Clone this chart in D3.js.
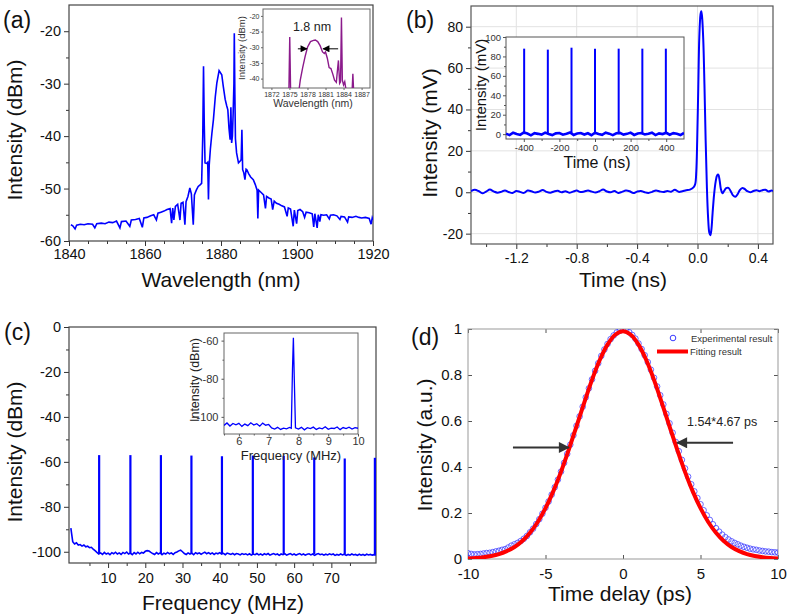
<!DOCTYPE html>
<html><head><meta charset="utf-8">
<script src="https://cdn.jsdelivr.net/npm/d3@7"></script>
<style>body{margin:0;background:#fff}</style>
</head><body>
<script>
// ================= DATA =================
// (a) main optical spectrum
const specA_wl = [1840.5,1841.0,1841.6,1842.0,1843.0,1844.0,1845.0,1846.2,1846.8,1847.3,1848.5,1849.5,1850.5,1851.5,1852.5,1853.4,1853.8,1855.0,1856.0,1856.4,1857.5,1858.5,1859.3,1859.7,1860.5,1861.5,1862.3,1863.0,1863.4,1864.2,1865.0,1865.8,1866.6,1867.0,1867.3,1867.6,1868.0,1868.6,1869.2,1869.5,1870.0,1870.5,1870.8,1871.3,1871.8,1872.2,1872.7,1873.0,1873.5,1874.0,1874.5,1874.9,1875.2,1875.4,1875.6,1875.8,1876.2,1876.5,1876.7,1876.9,1877.2,1877.6,1878.0,1878.5,1878.9,1879.5,1880.2,1880.6,1881.1,1881.5,1881.8,1882.1,1882.4,1882.6,1882.8,1883.0,1883.2,1883.4,1883.5,1883.65,1883.8,1884.1,1884.6,1885.0,1885.3,1885.5,1885.7,1886.0,1886.3,1886.6,1886.8,1887.3,1887.8,1888.5,1889.0,1889.5,1889.7,1889.9,1890.5,1891.2,1891.7,1892.0,1892.6,1893.2,1893.6,1894.0,1894.6,1895.3,1896.0,1896.7,1897.4,1897.7,1898.3,1899.0,1899.3,1899.9,1900.2,1900.8,1901.5,1902.0,1902.4,1903.2,1904.0,1904.4,1904.7,1905.3,1905.6,1906.0,1906.3,1907.0,1907.8,1908.5,1908.8,1909.6,1910.5,1911.3,1911.6,1912.5,1913.3,1913.6,1914.5,1915.5,1916.3,1917.0,1918.0,1919.0,1919.5,1919.8,1920.0];
const specA_db = [-56.9,-57.1,-57.7,-57.0,-56.8,-56.9,-56.7,-56.8,-57.5,-56.7,-56.6,-56.7,-56.4,-56.5,-56.2,-57.5,-56.3,-56.2,-57.2,-56.0,-55.9,-55.7,-57.4,-55.6,-55.5,-55.2,-55.0,-56.0,-54.7,-54.5,-54.3,-54.0,-53.8,-56.6,-53.7,-56.0,-53.4,-53.0,-56.0,-52.8,-52.6,-56.9,-52.5,-51.5,-49.9,-51.0,-56.9,-51.2,-50.3,-49.6,-49.3,-49.0,-40.0,-26.7,-38.0,-45.1,-45.2,-45.0,-52.1,-45.5,-42.5,-39.5,-36.9,-32.5,-29.9,-27.5,-28.3,-30.5,-33.0,-34.2,-35.0,-38.5,-40.7,-34.5,-41.3,-40.0,-35.6,-30.0,-20.4,-32.0,-40.5,-43.2,-45.1,-44.8,-44.5,-38.8,-46.4,-47.0,-48.3,-46.3,-46.4,-47.2,-47.8,-48.3,-49.2,-50.3,-55.7,-50.3,-50.7,-51.2,-53.8,-51.5,-51.8,-52.0,-54.0,-52.4,-52.8,-53.0,-53.3,-53.5,-55.3,-53.7,-53.9,-57.2,-54.1,-56.7,-54.2,-54.0,-54.4,-55.5,-54.5,-54.6,-54.8,-57.3,-54.8,-57.5,-55.0,-56.3,-55.0,-55.1,-55.0,-55.8,-55.1,-55.0,-55.2,-55.9,-55.3,-55.4,-56.4,-55.4,-55.5,-55.3,-55.5,-55.6,-55.5,-55.7,-56.8,-55.6,-56.0];
// (a) inset spectrum
const insA_wl = [1874.9,1875.05,1875.2,1876.5,1876.8,1877.2,1877.6,1878.0,1878.5,1879.0,1879.3,1879.7,1880.1,1880.5,1880.8,1881.0,1881.3,1881.6,1881.9,1882.2,1882.5,1882.8,1883.0,1883.15,1883.35,1883.5,1883.65,1883.8,1884.0,1884.2,1884.4,1885.4,1885.55,1885.7];
const insA_db = [-45,-26.7,-45,-45,-40.5,-36.5,-33,-30,-28.2,-27.8,-27.7,-28.2,-29.5,-31.5,-32,-31.5,-33.5,-36.5,-36.8,-38.5,-40.5,-41.2,-37,-34.2,-41.5,-41,-20.5,-40.5,-42,-41,-43.5,-45,-38.5,-45];
const insA_label = "1.8 nm";

// (b) main pulse trace
const baseB_start = -1.5, baseB_step = 0.025;
const baseB_mV = [0.5,1.2,0.6,-0.5,0.3,1.3,0.4,-0.2,0.2,0.9,0.1,-0.4,0.6,0.2,-0.3,0.8,0.5,-0.1,0.3,1.1,0.2,-0.2,0.4,0.7,0.0,0.5,-0.2,0.3,0.8,0.1,0.4,0.9,0.3,-0.1,0.5,1.3,0.4,0.0,0.6,-0.3,0.2,0.8,0.5,-0.4,0.3,0.6,0.0,-0.3,0.2,0.9,0.4,0.1,0.6,0.3,1.2,0.2,0.5,1.0,1.3,2.5];
const pulseB_t = [-0.015,-0.008,-0.002,0.005,0.012,0.02,0.025,0.03,0.038,0.046,0.054,0.062,0.07,0.078,0.085,0.092,0.1,0.11,0.12,0.13,0.138,0.146,0.155,0.165,0.175,0.19,0.205,0.22,0.235,0.25,0.265,0.28,0.295,0.31,0.33,0.35,0.37,0.39,0.41,0.43,0.45,0.47,0.49,0.5];
const pulseB_mV = [4,10,25,50,75,86,87.5,85,74,52,25,3,-12,-19.5,-20.8,-18,-10,-1,5,8.2,8.5,6,1.5,-0.5,0.5,2,2.1,0.5,-1.5,-2.2,-1,1,2,1.7,0.5,0,0.6,1,0.5,1,1.2,0.4,0.8,0.6];
// (b) inset pulse train
const trainB_t = [-398,-265,-132,0,133,266,398];
const trainB_mV = [88,87,89,88,88,88,88];
const floorB_start = -500, floorB_step = 20;
const floorB_mV = [0.5,-1,1.5,0.2,-0.8,1.8,0.6,-1.2,1,0.3,-0.5,1.6,0.1,-1,0.8,1.2,-0.6,0.4,1.7,-0.9,0.6,1.1,-0.4,0.9,-1.1,1.4,0.2,-0.7,1.5,0.5,-1,0.9,1.3,-0.5,0.3,1.6,-0.8,0.7,1.2,-0.3,0.5,1.5,-1,0.8,0.1,1.4,-0.6,1,0.4,-0.9,1.2];

// (c) RF spectrum
const floorC_start = 0, floorC_step = 0.5;
const floorC_dBm = [-89.5,-95.5,-96.5,-96,-97,-96.8,-97.5,-97,-97.8,-97.5,-98.2,-98,-98.8,-99.5,-100.3,-101,-100.5,-101.2,-100.3,-101,-100.6,-101.3,-100.4,-100.9,-100.2,-101,-100.5,-101.2,-100.3,-100.8,-100.1,-101,-100.6,-101.3,-100.4,-101,-100.2,-100.9,-100.3,-100.6,-99.8,-99.5,-99.7,-100.3,-100.8,-101.2,-100.4,-101,-100.5,-101.3,-100.6,-101,-100.3,-100.9,-100.5,-101.2,-100.4,-100.1,-99.6,-99.3,-100,-100.8,-101.2,-100.5,-101,-100.6,-101.3,-100.4,-100.9,-100.5,-101.1,-100.6,-100.2,-100.9,-100.4,-101,-100.5,-101.2,-100.6,-100.9,-100.4,-101,-100.7,-101.3,-100.6,-100.9,-101.2,-100.7,-101.3,-100.8,-101,-101.4,-100.8,-101.2,-100.9,-101.4,-100.9,-101.5,-101,-101.3,-100.8,-101.4,-101,-101.5,-100.9,-101.3,-100.8,-101.5,-101.1,-100.8,-101.3,-101,-101.6,-101,-101.3,-100.9,-101.5,-101.1,-100.8,-101.4,-101,-101.5,-101.1,-100.8,-101.4,-101,-101.5,-101.1,-100.9,-101.4,-101,-101.6,-101.1,-100.8,-101.3,-101,-101.5,-101.1,-101.4,-100.9,-101.3,-101,-101.6,-101.2,-101.5,-101,-101.4,-101.1,-101.6,-101.2,-101.5,-101,-101.4,-101.2,-101.6,-101.1,-101.5,-101.2,-101.6,-101.1,-101.4,-101.2,-101.5,-101.3,-101.4];
const combC_MHz = [7.6,16.0,24.2,32.4,40.6,48.9,57.2,65.4,73.6,81.7];
const combC_dBm = [-57,-57,-57,-57.2,-57.5,-57.2,-57.3,-58,-58.5,-58.2];
// (c) inset
const insC_MHz = [5.5,5.6,5.7,5.8,5.9,6.0,6.1,6.2,6.3,6.4,6.5,6.6,6.7,6.8,6.9,7.0,7.1,7.2,7.3,7.4,7.5,7.6,7.7,7.76,7.80,7.83,7.86,7.9,8.0,8.1,8.2,8.3,8.4,8.5,8.6,8.7,8.8,8.9,9.0,9.1,9.2,9.3,9.4,9.5,9.6,9.7,9.8,9.9,10.0];
const insC_dBm = [-104.5,-103.2,-104.8,-103.5,-104.2,-103.4,-105,-103.8,-104.6,-103.1,-104.3,-103.6,-104.9,-103.3,-104.4,-104,-105.8,-106.4,-105.5,-106.6,-105.9,-106.3,-105.6,-106,-75,-58.5,-80,-105.8,-106.4,-105.5,-106.8,-105.7,-106.2,-105.4,-106.6,-105.8,-106.3,-105.2,-106.5,-105.9,-106.1,-105.3,-106.7,-105.6,-106.2,-105.4,-106.4,-105.7,-106];

// (d) autocorrelation
const fitD_ps = [-10,-9.5,-9,-8.5,-8,-7.5,-7,-6.5,-6,-5.5,-5,-4.5,-4,-3.5,-3,-2.5,-2,-1.5,-1,-0.5,0,0.5,1,1.5,2,2.5,3,3.5,4,4.5,5,5.5,6,6.5,7,7.5,8,8.5,9,9.5,10];
const fitD_val = [0.0025,0.0044,0.0077,0.013,0.021,0.034,0.052,0.078,0.114,0.161,0.221,0.294,0.379,0.475,0.577,0.680,0.779,0.865,0.932,0.975,0.990,0.975,0.932,0.865,0.779,0.680,0.577,0.475,0.379,0.294,0.221,0.161,0.114,0.078,0.052,0.034,0.021,0.013,0.0077,0.0044,0.0025];
const expD_start = -10, expD_step = 0.2;
const expD_val = [0.025,0.022,0.02,0.021,0.022,0.024,0.026,0.027,0.03,0.033,0.036,0.04,0.043,0.05,0.058,0.064,0.07,0.078,0.088,0.1,0.116,0.132,0.152,0.173,0.197,0.223,0.25,0.28,0.312,0.345,0.38,0.418,0.457,0.497,0.538,0.579,0.62,0.662,0.703,0.742,0.781,0.818,0.851,0.883,0.911,0.935,0.956,0.972,0.985,0.993,0.998,0.995,0.986,0.974,0.958,0.937,0.913,0.886,0.856,0.823,0.788,0.75,0.712,0.672,0.631,0.59,0.549,0.509,0.469,0.431,0.394,0.358,0.325,0.294,0.265,0.238,0.212,0.19,0.17,0.151,0.134,0.119,0.106,0.095,0.085,0.077,0.07,0.064,0.058,0.053,0.049,0.045,0.042,0.04,0.037,0.035,0.033,0.032,0.03,0.029,0.028];
const legendD = ["Experimental result","Fitting result"];
const noteD = "1.54*4.67 ps";

// ================= DRAW =================
const FONT = "'Liberation Sans', Arial, sans-serif";
const svg = d3.select("body").append("svg").attr("width",787).attr("height",616)
  .style("font-family",FONT);
let clipId = 0;

function axes(o){
  const g = svg.append("g");
  const [xl,xr] = o.x.range(), [yb,yt] = o.y.range();
  const s = o.inward ? -1 : 1;
  const tc = o.tc || "#333";
  if(o.grid){
    g.selectAll(null).data(o.xt).join("line").attr("x1",d=>o.x(d)).attr("x2",d=>o.x(d))
      .attr("y1",yt).attr("y2",yb).attr("stroke",o.grid);
    g.selectAll(null).data(o.yt).join("line").attr("y1",d=>o.y(d)).attr("y2",d=>o.y(d))
      .attr("x1",xl).attr("x2",xr).attr("stroke",o.grid);
  }
  function style(sel, fs){
    sel.attr("font-size",null).attr("font-family",null);
    sel.select(".domain").remove();
    sel.selectAll("line").attr("stroke",tc).attr("stroke-width",o.tw||1);
    sel.selectAll("text").attr("font-size",fs).attr("font-family",FONT).attr("fill",o.lc||"#111");
  }
  const ax = g.append("g").attr("transform",`translate(0,${yb})`)
    .call(d3.axisBottom(o.x).tickValues(o.xt).tickSize(s*o.tl).tickSizeOuter(0).tickPadding(o.xpad).tickFormat(o.xf));
  style(ax,o.fs);
  if(o.xm){ const m = g.append("g").attr("transform",`translate(0,${yb})`)
    .call(d3.axisBottom(o.x).tickValues(o.xm).tickSize(s*o.ml).tickSizeOuter(0).tickFormat(""));
    style(m,o.fs); }
  const ay = g.append("g").attr("transform",`translate(${xl},0)`)
    .call(d3.axisLeft(o.y).tickValues(o.yt).tickSize(s*o.tl).tickSizeOuter(0).tickPadding(o.ypad).tickFormat(o.yf));
  style(ay,o.fs);
  if(o.ym){ const m = g.append("g").attr("transform",`translate(${xl},0)`)
    .call(d3.axisLeft(o.y).tickValues(o.ym).tickSize(s*o.ml).tickSizeOuter(0).tickFormat(""));
    style(m,o.fs); }
  if(o.mirror){
    const t = g.append("g").attr("transform",`translate(0,${yt})`)
      .call(d3.axisTop(o.x).tickValues(o.xt).tickSize(-o.tl).tickSizeOuter(0).tickFormat(""));
    style(t,o.fs);
    const r = g.append("g").attr("transform",`translate(${xr},0)`)
      .call(d3.axisRight(o.y).tickValues(o.yt).tickSize(-o.tl).tickSizeOuter(0).tickFormat(""));
    style(r,o.fs);
  }
  g.append("rect").attr("x",xl).attr("y",yt).attr("width",xr-xl).attr("height",yb-yt)
    .attr("fill","none").attr("stroke",o.fc||"#444").attr("stroke-width",o.fw||1.2);
  return g;
}
function clip(x,y){
  const id = "cp"+(clipId++);
  svg.append("clipPath").attr("id",id).append("rect")
    .attr("x",x.range()[0]).attr("y",y.range()[1])
    .attr("width",x.range()[1]-x.range()[0]).attr("height",y.range()[0]-y.range()[1]);
  return svg.append("g").attr("clip-path",`url(#${id})`);
}
function text(x,y,t,fs,opt={}){
  const e = svg.append("text").attr("x",x).attr("y",y).text(t).attr("font-size",fs)
    .attr("fill",opt.fill||"#111").attr("text-anchor",opt.anchor||"middle");
  if(opt.rot) e.attr("transform",`rotate(-90,${x},${y})`);
  return e;
}
const defs = svg.append("defs");
function marker(id,color,w,h){
  defs.append("marker").attr("id",id).attr("viewBox","0 0 10 10").attr("refX",9).attr("refY",5)
    .attr("markerWidth",w).attr("markerHeight",h).attr("orient","auto-start-reverse")
    .attr("markerUnits","userSpaceOnUse")
    .append("path").attr("d","M0,0L10,5L0,10Z").attr("fill",color);
}
marker("arrK","#000",9,7);
marker("arrG","#333",14,11);
const BLUE = "#0000ff";
const str = d=>String(d);

// ---------- (a) ----------
{
  const x = d3.scaleLinear().domain([1840,1920]).range([69,373]);
  const y = d3.scaleLinear().domain([-60,-15]).range([241,5]);
  axes({x,y,xt:d3.range(1840,1921,20),xm:d3.range(1845,1920,5).filter(v=>v%20),yt:[-60,-50,-40,-30,-20],ym:[-55,-45,-35,-25],
    tl:5,ml:3,fs:14.5,xpad:3,ypad:3,xf:str,yf:str});
  const g = clip(x,y);
  g.append("path").datum(d3.zip(specA_wl,specA_db)).attr("fill","none").attr("stroke",BLUE).attr("stroke-width",1.6)
    .attr("d",d3.line().x(d=>x(d[0])).y(d=>y(d[1])));
  text(221,287,"Wavelength (nm)",21);
  text(22,130,"Intensity (dBm)",21,{rot:true});
  text(3,28,"(a)",23,{anchor:"start"});
  // inset
  const xi = d3.scaleLinear().domain([1870.6,1888.4]).range([263,370]);
  const yi = d3.scaleLinear().domain([-43,-17.8]).range([88,9]);
  svg.append("rect").attr("x",263).attr("y",9).attr("width",107).attr("height",79).attr("fill","#fff");
  axes({x:xi,y:yi,xt:d3.range(1872,1888,3),yt:[-40,-35,-30,-25,-20],tl:2,ml:1,fs:7,xpad:2,ypad:1.5,xf:str,yf:str,tc:"#666",fc:"#666",fw:1,lc:"#333"});
  const gi = clip(xi,yi);
  gi.append("path").datum(d3.zip(insA_wl,insA_db)).attr("fill","none").attr("stroke","#8b1a8b").attr("stroke-width",1.4)
    .attr("d",d3.line().x(d=>xi(d[0])).y(d=>yi(d[1])));
  text(313,107,"Wavelength (nm)",10.5,{fill:"#333"});
  text(245,48,"Intensity (dBm)",9.5,{rot:true,fill:"#333"});
  text(312,31,insA_label,12.5,{fill:"#222"});
  svg.append("line").attr("x1",xi(1876.4)).attr("x2",xi(1877.9)).attr("y1",yi(-30.5)).attr("y2",yi(-30.5))
    .attr("stroke","#000").attr("stroke-width",1).attr("marker-end","url(#arrK)");
  svg.append("line").attr("x1",xi(1883.1)).attr("x2",xi(1880.6)).attr("y1",yi(-30.5)).attr("y2",yi(-30.5))
    .attr("stroke","#000").attr("stroke-width",1).attr("marker-end","url(#arrK)");
}

// ---------- (b) ----------
{
  const x = d3.scaleLinear().domain([-1.5,0.5]).range([471,773]);
  const y = d3.scaleLinear().domain([-25,90]).range([244,6]);
  axes({x,y,xt:[-1.2,-0.8,-0.4,0,0.4],xm:[-1.4,-1.0,-0.6,-0.2,0.2],yt:[-20,0,20,40,60,80],ym:[-10,10,30,50,70],
    tl:5,ml:3,fs:14,xpad:4,ypad:3,xf:d=>d.toFixed(1),yf:str,grid:"#e2e2e2",fc:"#555"});
  const g = clip(x,y);
  const pts = baseB_mV.map((v,i)=>[baseB_start+i*baseB_step,v]).concat(d3.zip(pulseB_t,pulseB_mV));
  g.append("path").datum(pts).attr("fill","none").attr("stroke",BLUE).attr("stroke-width",2)
    .attr("d",d3.line().curve(d3.curveCatmullRom).x(d=>x(d[0])).y(d=>y(d[1])));
  text(623,287,"Time (ns)",21);
  text(437,133,"Intensity (mV)",21,{rot:true});
  text(406,28,"(b)",23,{anchor:"start"});
  // inset
  const xi = d3.scaleLinear().domain([-500,500]).range([506,684]);
  const yi = d3.scaleLinear().domain([-5,100]).range([139,37]);
  svg.append("rect").attr("x",506).attr("y",37).attr("width",178).attr("height",102).attr("fill","#fff");
  axes({x:xi,y:yi,xt:[-400,-200,0,200,400],xm:[-300,-100,100,300],yt:[0,20,40,60,80,100],ym:[10,30,50,70,90],
    tl:3,ml:2,fs:9.5,xpad:2,ypad:2,xf:str,yf:str,tc:"#555",fc:"#555",fw:1,lc:"#333"});
  const gi = clip(xi,yi);
  gi.append("path").datum(floorB_mV.map((v,i)=>[floorB_start+i*floorB_step,v])).attr("fill","none")
    .attr("stroke",BLUE).attr("stroke-width",2.6)
    .attr("d",d3.line().x(d=>xi(d[0])).y(d=>yi(d[1])));
  gi.selectAll(null).data(d3.zip(trainB_t,trainB_mV)).join("line")
    .attr("x1",d=>xi(d[0])).attr("x2",d=>xi(d[0])).attr("y1",yi(0)).attr("y2",d=>yi(d[1]))
    .attr("stroke",BLUE).attr("stroke-width",2);
  text(597,168,"Time (ns)",16);
  text(486,85,"Intensity (mV)",15,{rot:true});
}

// ---------- (c) ----------
{
  const x = d3.scaleLinear().domain([-0.5,82]).range([69,376]);
  const y = d3.scaleLinear().domain([-105,0]).range([563,327]);
  axes({x,y,xt:[10,20,30,40,50,60,70],xm:[5,15,25,35,45,55,65,75],yt:[-100,-80,-60,-40,-20,0],ym:[-90,-70,-50,-30,-10],
    tl:5,ml:3,fs:14.5,xpad:5,ypad:3,xf:str,yf:str});
  const g = clip(x,y);
  g.append("path").datum(floorC_dBm.map((v,i)=>[floorC_start+i*floorC_step,v])).attr("fill","none")
    .attr("stroke",BLUE).attr("stroke-width",1.6)
    .attr("d",d3.line().x(d=>x(d[0])).y(d=>y(d[1])));
  g.selectAll(null).data(d3.zip(combC_MHz,combC_dBm)).join("line")
    .attr("x1",d=>x(d[0])).attr("x2",d=>x(d[0])).attr("y1",y(-101)).attr("y2",d=>y(d[1]))
    .attr("stroke",BLUE).attr("stroke-width",2.2);
  text(223,610,"Frequency (MHz)",21);
  text(22,452,"Intensity (dBm)",21,{rot:true});
  text(4,340,"(c)",23,{anchor:"start"});
  // inset
  const xi = d3.scaleLinear().domain([5.5,10]).range([224,358]);
  const yi = d3.scaleLinear().domain([-109,-56]).range([434,333]);
  svg.append("rect").attr("x",224).attr("y",333).attr("width",134).attr("height",101).attr("fill","#fff");
  axes({x:xi,y:yi,xt:[6,7,8,9,10],xm:[5.5,6.5,7.5,8.5,9.5],yt:[-100,-80,-60],ym:[-90,-70],
    tl:2.5,ml:1.5,fs:11,xpad:0.5,ypad:3,xf:str,yf:str,tc:"#555",fc:"#666",fw:1,lc:"#333"});
  const gi = clip(xi,yi);
  gi.append("path").datum(d3.zip(insC_MHz,insC_dBm)).attr("fill","none").attr("stroke",BLUE).attr("stroke-width",1.3)
    .attr("d",d3.line().x(d=>xi(d[0])).y(d=>yi(d[1])));
  text(291,459.5,"Frequency (MHz)",13,{fill:"#222"});
  text(199,380,"Intensity (dBm)",12.5,{rot:true,fill:"#222"});
}

// ---------- (d) ----------
{
  const x = d3.scaleLinear().domain([-10,10]).range([468,778]);
  const y = d3.scaleLinear().domain([0,1]).range([559,329]);
  axes({x,y,xt:[-10,-5,0,5,10],yt:[0,0.2,0.4,0.6,0.8,1],tl:4,fs:15,xpad:9,ypad:6,xf:str,yf:str,
    inward:true,mirror:true,tc:"#555",fc:"#999",fw:1,lc:"#111"});
  const g = clip(x,y);
  g.selectAll(null).data(expD_val.map((v,i)=>[expD_start+i*expD_step,v])).join("circle")
    .attr("cx",d=>x(d[0])).attr("cy",d=>y(d[1])).attr("r",2.8)
    .attr("fill","none").attr("stroke","#3a3aff").attr("stroke-opacity",0.75).attr("stroke-width",1);
  g.append("path").datum(d3.zip(fitD_ps,fitD_val)).attr("fill","none").attr("stroke","#ff0000").attr("stroke-width",4)
    .attr("d",d3.line().curve(d3.curveCatmullRom).x(d=>x(d[0])).y(d=>y(d[1])));
  // legend
  svg.append("circle").attr("cx",673).attr("cy",338).attr("r",2.8).attr("fill","none").attr("stroke","#3a3aff");
  text(691,341.5,legendD[0],9.5,{anchor:"start",fill:"#333"});
  svg.append("line").attr("x1",657).attr("x2",688).attr("y1",351.5).attr("y2",351.5).attr("stroke","#ff0000").attr("stroke-width",4);
  text(690,355,legendD[1],9.5,{anchor:"start",fill:"#333"});
  text(687,426,noteD,12.5,{anchor:"start",fill:"#222"});
  svg.append("line").attr("x1",x(-7.1)).attr("x2",x(-3.5)).attr("y1",y(0.485)).attr("y2",y(0.485))
    .attr("stroke","#333").attr("stroke-width",2).attr("marker-end","url(#arrG)");
  svg.append("line").attr("x1",x(7.1)).attr("x2",x(3.5)).attr("y1",y(0.505)).attr("y2",y(0.505))
    .attr("stroke","#333").attr("stroke-width",2).attr("marker-end","url(#arrG)");
  text(432,445,"Intensity (a.u.)",21,{rot:true});
  text(620,601,"Time delay (ps)",21);
  text(411,345,"(d)",23,{anchor:"start"});
}
</script>
</body></html>
